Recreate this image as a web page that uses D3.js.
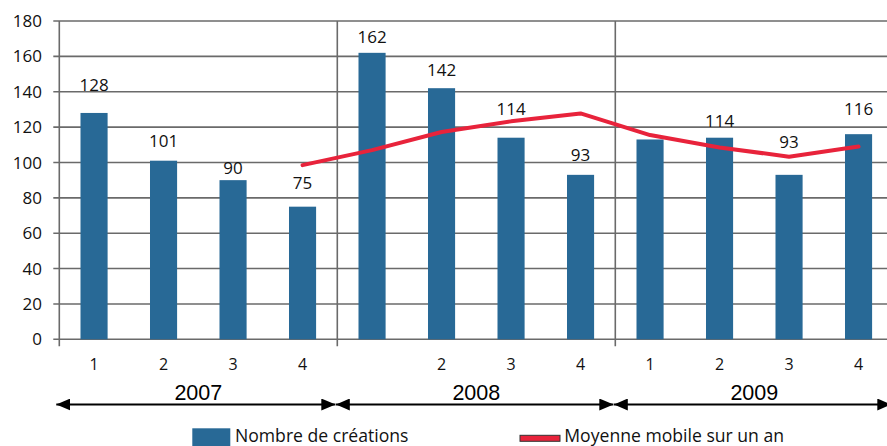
<!DOCTYPE html>
<html>
<head>
<meta charset="utf-8">
<script src="https://cdn.jsdelivr.net/npm/d3@7"></script>
<style>
	body { margin: 0; background: #fff; }
	svg { display: block; }
</style>
</head>
<body>
<div id="chart"></div>
<script>
// data
const years = ["2007", "2008", "2009"]
const quarters = ["1", "2", "3", "4", "", "2", "3", "4", "1", "2", "3", "4"]
const creations = [128, 101, 90, 75, 162, 142, 114, 93, 113, 114, 93, 116]
const shownLabels = [128, 101, 90, 75, 162, 142, 114, 93, null, 114, 93, 116]
// moving average over one year, starts at the 4th quarter of 2007
const movingAvg = [null, null, null, 98.5, 107, 117.25, 123.25, 127.75, 115.5, 108.5, 103.25, 109]
const yTicks = [0, 20, 40, 60, 80, 100, 120, 140, 160, 180]

// label lift above the bar top, hand placed in the original
const labelLift = [22, 14, 6, 18, 10, 12, 23, 14, 0, 11, 27, 19]

function drawChart() {
	const width = 887
	const height = 446
	const left = 59.3, right = 893.3
	const top = 21, bottom = 339.3
	const gridColor = "#6a6a6a"
	const blue = "#286996"
	const red = "#E8233B"
	const numFont = "'Open Sans', 'Noto Sans', sans-serif"

	d3.selectAll("#chart > *").remove()

	const svg = d3.select("#chart").append("svg")
		.attr("width", width)
		.attr("height", height)

	const idx = d3.range(creations.length)

	const x = d3.scaleBand()
		.domain(idx)
		.range([left, right])
		.paddingInner(0.61)
		.paddingOuter(0.305)

	const y = d3.scaleLinear()
		.domain([0, 180])
		.range([bottom, top])

	const step = x.step()

	// horizontal grid
	svg.append("g")
		.selectAll("line")
		.data(yTicks)
		.join("line")
			.attr("x1", left - 6)
			.attr("x2", width)
			.attr("y1", d => y(d))
			.attr("y2", d => y(d))
			.attr("stroke", gridColor)
			.attr("stroke-width", 1.6)

	// year separators + left axis
	const groupEdges = d3.range(years.length).map(i => left + i * 4 * step)
	svg.append("g")
		.selectAll("line")
		.data(groupEdges)
		.join("line")
			.attr("x1", d => d)
			.attr("x2", d => d)
			.attr("y1", top)
			.attr("y2", bottom + 7)
			.attr("stroke", gridColor)
			.attr("stroke-width", 1.6)

	// y labels
	svg.append("g")
		.selectAll("text")
		.data(yTicks)
		.join("text")
			.attr("x", 42)
			.attr("y", d => y(d))
			.attr("dy", "0.36em")
			.attr("text-anchor", "end")
			.attr("font-family", numFont)
			.attr("font-size", 17)
			.attr("fill", "#111")
			.text(d => d)

	// bars
	svg.append("g")
		.selectAll("rect")
		.data(idx)
		.join("rect")
			.attr("x", i => x(i))
			.attr("width", x.bandwidth())
			.attr("y", i => y(creations[i]))
			.attr("height", i => y(0) - y(creations[i]))
			.attr("fill", blue)

	// moving average line
	const line = d3.line()
		.defined(i => movingAvg[i] != null)
		.x(i => x(i) + x.bandwidth() / 2)
		.y(i => y(movingAvg[i]))

	svg.append("path")
		.datum(idx)
		.attr("d", line)
		.attr("fill", "none")
		.attr("stroke", red)
		.attr("stroke-width", 4)
		.attr("stroke-linejoin", "round")
		.attr("stroke-linecap", "round")

	// value labels
	svg.append("g")
		.selectAll("text")
		.data(idx.filter(i => shownLabels[i] != null))
		.join("text")
			.attr("x", i => x(i) + x.bandwidth() / 2)
			.attr("y", i => y(creations[i]) - labelLift[i])
			.attr("text-anchor", "middle")
			.attr("font-family", numFont)
			.attr("font-size", 17)
			.attr("fill", "#111")
			.text(i => shownLabels[i])

	// quarter labels
	svg.append("g")
		.selectAll("text")
		.data(idx)
		.join("text")
			.attr("x", i => x(i) + x.bandwidth() / 2)
			.attr("y", 370)
			.attr("text-anchor", "middle")
			.attr("font-family", numFont)
			.attr("font-size", 16)
			.attr("fill", "#111")
			.text(i => quarters[i])

	// year labels and arrows
	svg.append("defs").append("marker")
		.attr("id", "head")
		.attr("viewBox", "0 0 14 12")
		.attr("refX", 14)
		.attr("refY", 6)
		.attr("markerWidth", 14)
		.attr("markerHeight", 12)
		.attr("markerUnits", "userSpaceOnUse")
		.attr("orient", "auto-start-reverse")
		.append("path")
			.attr("d", "M0,0L14,6L0,12Z")
			.attr("fill", "#000")

	const yearG = svg.append("g")
		.selectAll("g")
		.data(years)
		.join("g")

	yearG.append("text")
		.attr("x", (d, i) => groupEdges[i] + 2 * step)
		.attr("y", 399.5)
		.attr("text-anchor", "middle")
		.attr("font-family", "'Liberation Sans', Arial, sans-serif")
		.attr("font-size", 21.5)
		.attr("fill", "#000")
		.text(d => d)

	yearG.append("line")
		.attr("x1", (d, i) => groupEdges[i] - 3 + (i > 0 ? 1.5 : 0))
		.attr("x2", (d, i) => groupEdges[i] + 4 * step - 2)
		.attr("y1", 404.5)
		.attr("y2", 404.5)
		.attr("stroke", "#000")
		.attr("stroke-width", 2)
		.attr("marker-start", "url(#head)")
		.attr("marker-end", "url(#head)")

	// legend
	const legFont = "'Open Sans', 'Noto Sans', sans-serif"
	svg.append("rect")
		.attr("x", 192.3)
		.attr("y", 428.3)
		.attr("width", 38)
		.attr("height", 20)
		.attr("fill", blue)

	svg.append("text")
		.attr("x", 235)
		.attr("y", 441.5)
		.attr("font-family", legFont)
		.attr("font-size", 17.6)
		.attr("fill", "#111")
		.text("Nombre de créations")

	svg.append("rect")
		.attr("x", 520)
		.attr("y", 435.3)
		.attr("width", 40)
		.attr("height", 6)
		.attr("fill", red)
		.attr("stroke", "#333")
		.attr("stroke-width", 1)

	svg.append("text")
		.attr("x", 564.3)
		.attr("y", 441.5)
		.attr("font-family", legFont)
		.attr("font-size", 17.6)
		.attr("fill", "#111")
		.text("Moyenne mobile sur un an")
}

drawChart()
</script>
</body>
</html>
